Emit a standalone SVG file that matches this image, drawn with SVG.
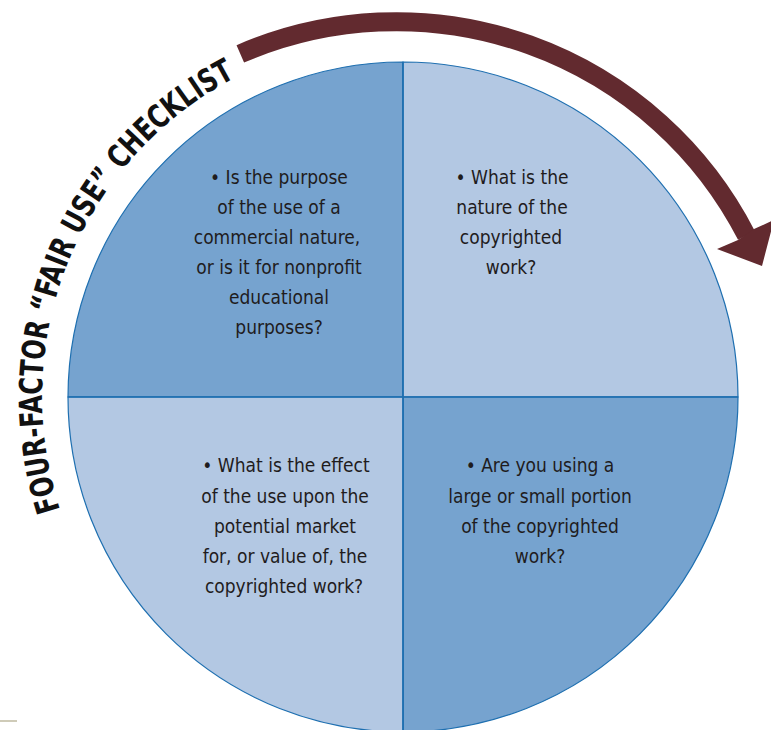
<svg xmlns="http://www.w3.org/2000/svg" width="771" height="730" viewBox="0 0 771 730">
<style>
.dark{fill:#76A3CF;}
.light{fill:#B3C8E3;}
.edge{stroke:#1E6FB0;stroke-width:1.2;}
.div{stroke:#1E6FB0;stroke-width:1.6;fill:none;}
.t{font-family:"Liberation Sans Narrow","DejaVu Sans Condensed","Liberation Sans",sans-serif;font-size:19px;fill:#1f1c1d;text-anchor:middle;}
.title{font-family:"Liberation Sans Narrow","DejaVu Sans Condensed","Liberation Sans",sans-serif;font-size:32px;font-weight:bold;fill:#111;}
.arrow{fill:none;stroke:#622A2F;stroke-width:19;}
</style>
<defs>
<path id="titlePath" d="M 60.1 509.7 A 361 361 0 0 1 235.7 77.1"/>
</defs>
<rect width="771" height="730" fill="#ffffff"/>
<line x1="0" y1="721" x2="17" y2="721" stroke="#CFCBB8" stroke-width="2"/>

<g id="q-purpose">
<path class="dark edge" d="M403,397 L68,397 A335,335 0 0 1 403,62 Z"/>
<text class="t" y="184"><tspan x="279">• Is the purpose</tspan><tspan x="279" dy="30">of the use of a</tspan><tspan x="277" dy="30">commercial nature,</tspan><tspan x="279" dy="30">or is it for nonprofit</tspan><tspan x="279" dy="30">educational</tspan><tspan x="279" dy="30">purposes?</tspan></text>
</g>

<g id="q-nature">
<path class="light edge" d="M403,397 L403,62 A335,335 0 0 1 738,397 Z"/>
<text class="t" y="184"><tspan x="512">• What is the</tspan><tspan x="512" dy="30">nature of the</tspan><tspan x="511" dy="30">copyrighted</tspan><tspan x="511" dy="30">work?</tspan></text>
</g>

<g id="q-portion">
<path class="dark edge" d="M403,397 L738,397 A335,335 0 0 1 403,732 Z"/>
<text class="t" y="472"><tspan x="540">• Are you using a</tspan><tspan x="540" dy="30.5">large or small portion</tspan><tspan x="540" dy="30.5">of the copyrighted</tspan><tspan x="540" dy="30">work?</tspan></text>
</g>

<g id="q-effect">
<path class="light edge" d="M403,397 L403,732 A335,335 0 0 1 68,397 Z"/>
<text class="t" y="472"><tspan x="286">• What is the effect</tspan><tspan x="285" dy="30.5">of the use upon the</tspan><tspan x="285" dy="30.5">potential market</tspan><tspan x="285" dy="30">for, or value of, the</tspan><tspan x="284" dy="30">copyrighted work?</tspan></text>
</g>

<g id="dividers">
<line class="div" x1="403" y1="62" x2="403" y2="732"/>
<line class="div" x1="68" y1="397" x2="738" y2="397"/>
</g>

<g id="title">
<text class="title"><textPath href="#titlePath" textLength="507" lengthAdjust="spacingAndGlyphs">FOUR-FACTOR “FAIR USE” CHECKLIST</textPath></text>
</g>

<g id="connectors">
<path class="arrow" d="M 240.3 53.9 A 393.7 393.7 0 0 1 746.5 235.5"/>
<polygon points="717,249 762,266 774,220 754,229 738,240" fill="#622A2F"/>
</g>
</svg>
